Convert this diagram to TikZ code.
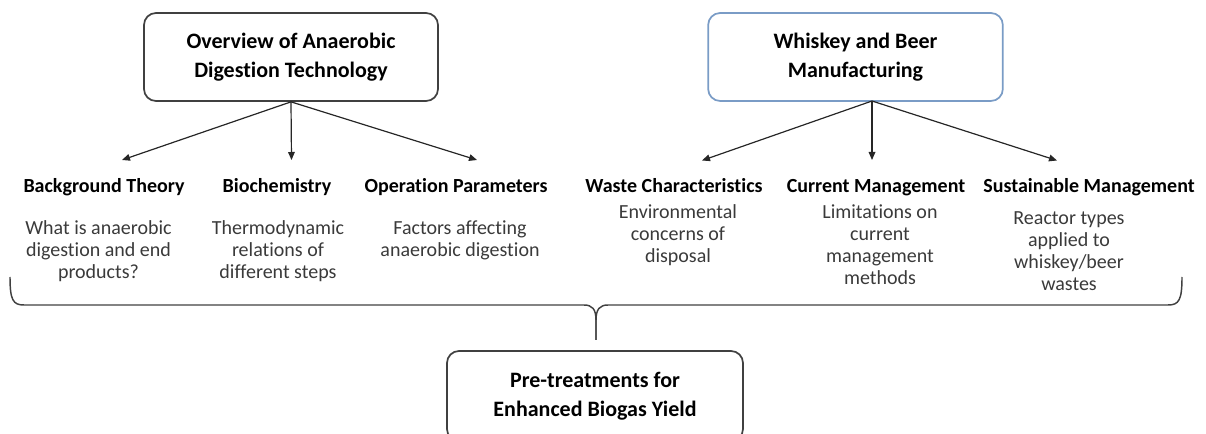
\documentclass[tikz,border=0pt]{standalone}
\usepackage{fontspec}
\setmainfont{Carlito}[Ligatures=NoCommon]
\usetikzlibrary{positioning,arrows.meta}

\definecolor{boxgray}{HTML}{404040}
\definecolor{boxblue}{HTML}{7A9CC6}
\definecolor{bodygray}{HTML}{3A3A3A}

\tikzset{
  topic/.style={draw=boxgray, line width=1.3pt, rounded corners=9pt,
    minimum width=220.5pt, minimum height=66pt, align=center,
    font=\fontsize{16.5}{21.5}\selectfont\bfseries},
  heading/.style={inner sep=0pt, anchor=base,
    font=\fontsize{15}{18}\selectfont\bfseries},
  detail/.style={inner sep=0pt, anchor=north, align=center, text=bodygray,
    font=\fontsize{15}{16.5}\selectfont},
  branch/.style={-{Triangle[length=6pt,width=5pt]}, line width=0.9pt, draw=black!85},
  bracket/.style={line width=1.1pt, draw=boxgray},
}

\begin{document}
\begin{tikzpicture}[x=0.75pt, y=-0.75pt]
  \useasboundingbox (0,0) rectangle (1206,434);
  \clip (0,0) rectangle (1206,434);

  % top topics
  \node[topic] (anaerobic) at (291,57) {Overview of Anaerobic\\Digestion Technology};
  \node[topic, draw=boxblue, minimum width=221pt] (whiskey) at (855.5,57) {Whiskey and Beer\\Manufacturing};

  % headings
  \node[heading] (theory) at (104,193) {Background Theory};
  \node[heading] (biochem) at (277,193) {Biochemistry};
  \node[heading] (operation) at (456,193) {Operation Parameters};
  \node[heading] (waste) at (674,193) {Waste Characteristics};
  \node[heading] (current) at (876,193) {Current Management};
  \node[heading] (sustain) at (1089,193) {Sustainable Management};

  % details
  \node[detail] (theorytxt) at (98.5,220) {What is anaerobic\\digestion and end\\products?};
  \node[detail] (biochemtxt) at (278,220) {Thermodynamic\\relations of\\different steps};
  \node[detail] (operationtxt) at (460,220) {Factors affecting\\anaerobic digestion};
  \node[detail] (wastetxt) at (678,204) {Environmental\\concerns of\\disposal};
  \node[detail] (currenttxt) at (880,204) {Limitations on\\current\\management\\methods};
  \node[detail] (sustaintxt) at (1069,211) {Reactor types\\applied to\\whiskey/beer\\wastes};

  % arrows
  \coordinate (wsrc) at (872,101);
  \coordinate (tipA) at (122,160);
  \coordinate (tipB) at (291.5,160);
  \coordinate (tipC) at (477,160);
  \coordinate (tipD) at (702,160.5);
  \coordinate (tipE) at (872,160);
  \coordinate (tipF) at (1057,160.5);
  \draw[branch] (anaerobic.south) -- (tipA);
  \draw[branch] (anaerobic.south) -- (tipB);
  \draw[branch] (anaerobic.south) -- (tipC);
  \draw[branch] (wsrc) -- (tipD);
  \draw[branch] (wsrc) -- (tipE);
  \draw[branch] (wsrc) -- (tipF);

  % brace
  \coordinate (braceL) at (10,277);
  \coordinate (braceR) at (1182,277);
  \coordinate (braceM) at (596,340);
  \draw[bracket] (braceL) .. controls (10,300) and (13,305) .. (24,305) -- (584,305)
    .. controls (592,305) and (596,309) .. (596,320) -- (braceM);
  \draw[bracket] (braceM) -- (596,320) .. controls (596,309) and (600,305) .. (608,305)
    -- (1168,305) .. controls (1179,305) and (1182,300) .. (braceR);

  % result
  \node[topic, minimum width=222pt, minimum height=67.5pt] (pretreat) at (595,396) {Pre-treatments for\\Enhanced Biogas Yield};
\end{tikzpicture}
\end{document}
